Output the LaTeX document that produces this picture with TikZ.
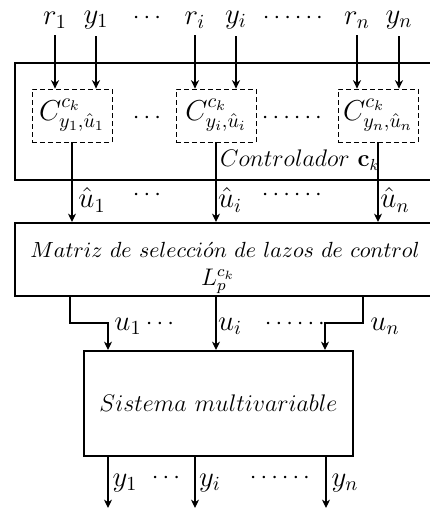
\documentclass[tikz,border=0pt]{standalone}
\usetikzlibrary{arrows.meta}

\begin{document}
\begin{tikzpicture}[
 x=0.5pt, y=-0.5pt,
 font=\large,
 block/.style={draw,line width=1pt,inner sep=0pt},
 subblock/.style={draw,dash pattern=on 2.5pt off 1.5pt,inner sep=0pt,minimum width=40pt,minimum height=26.5pt,font=\Large},
 lbl/.style={font=\Large},
 signal/.style={->,>={Stealth[length=4.2pt,width=4pt,inset=1.3pt]},semithick},
]
\useasboundingbox (0,0) rectangle (430,511);

% Controller
\node[block,minimum width=208pt,minimum height=58.5pt] (ctrl) at (223,121.5) {};
\node (ctrllabel) at (300,160) {$Controlador\ \mathbf{c}_k$};

\foreach \name/\x/\i in {C1/72/1, Ci/216/i, Cn/378/n}
    \node[subblock] (\name) at (\x,115.5) {$C^{c_k}_{y_\i,\hat{u}_\i}$};

% Inputs
\foreach \name/\i/\xr/\xy in {C1/1/55/96, Ci/i/195/236, Cn/n/357/399} {
    \node[lbl] (r\i) at (\xr,20) {$r_\i$};
    \node[lbl] (y\i) at (\xy,20) {$y_\i$};
    \draw[signal] (r\i) -- (r\i |- \name.north);
    \draw[signal] (y\i) -- (y\i |- \name.north); }

% Selection matrix
\node[block,minimum width=208pt,minimum height=36.5pt] (matriz) at (223,259.5) {};
\node[anchor=base,font=\fontsize{11.4}{14}\selectfont] (mtext) at (225,257)
    {$Matriz\ de\ selecci\acute{o}n\ de\ lazos\ de\ control$};
\node[anchor=base] (lpck) at (218,285) {$L^{c_k}_p$};

\foreach \name/\i/\xl in {C1/1/92, Ci/i/230, Cn/n/395} {
    \draw[signal] (\name) -- (\name |- matriz.north);
    \node[lbl] (uh\i) at (\xl,200) {$\hat{u}_\i$}; }

% Plant
\node[block,minimum width=134.5pt,minimum height=52.5pt,font=\fontsize{12.7}{15}\selectfont] (sys) at (218.5,403.5)
    {$Sistema\ multivariable$};

\foreach \i/\xa/\xb/\xl in {1/70/108/128, i/216/216/230, n/363/325/385} {
    \coordinate (a\i) at (\xa,323);
    \coordinate (b\i) at (\xb,323);
    \draw[signal] (a\i |- matriz.south) -- (a\i) -- (b\i) -- (b\i |- sys.north);
    \node[lbl] (u\i) at (\xl,326) {$u_\i$}; }

% Outputs
\foreach \i/\x/\xl in {1/108/125, i/195/210, n/326/345} {
    \coordinate (o\i) at (\x,508);
    \draw[signal] (o\i |- sys.south) -- (o\i);
    \node[lbl] (out\i) at (\xl,483) {$y_\i$}; }

% Dots
\foreach \n/\x/\y/\d in {1/147/18/\cdots, 2/293/18/\cdots\cdots, 3/147/118/\cdots, 4/292/118/\cdots\cdots,
    5/147/195/\cdots, 6/292/195/\cdots\cdots, 7/160/324/\cdots, 8/295/324/\cdots\cdots,
    9/166/478/\cdots, 10/280/478/\cdots\cdots}
    \node (dots\n) at (\x,\y) {$\d$};

\end{tikzpicture}
\end{document}
